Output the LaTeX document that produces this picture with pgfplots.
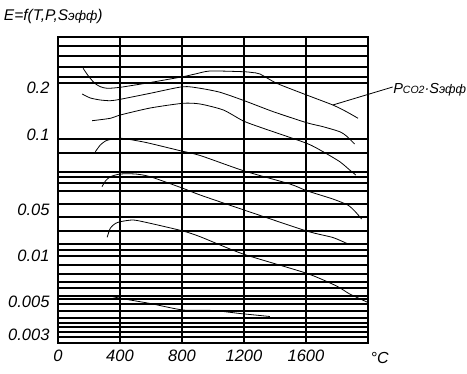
\documentclass[border=0pt]{standalone}
\usepackage{fontspec}
\setmainfont{Liberation Sans}
\usepackage{pgfplots}
\pgfplotsset{compat=1.18}
\begin{document}
\begin{tikzpicture}
\begin{axis}[
  scale only axis, width=310pt, height=306pt,
  xmin=0, xmax=2000, ymin=37, ymax=343, y dir=reverse,
  axis line style={line width=1.6pt},
  xtick={0,400,800,1200,1600,2000}, xticklabels={0,400,800,1200,1600,},
  xmajorgrids,
  ytick={88,135,210,256,302,335},
  yticklabels={0.2,0.1,0.05,0.01,0.005,0.003},
  extra y ticks={46,56,67,77,83,139,153,172,177,183,191,204,217,231,244,250,256,265,274,282,288,296,299,304,311,318,323,327,332,337},
  extra y tick labels={},
  extra y tick style={grid=major},
  major tick length=0pt,
  grid style={black, line width=1.6pt},
  tick label style={font=\fontsize{16.5}{16.5}\selectfont\itshape},
  xticklabel style={yshift=-3pt},
  yticklabel style={xshift=-5pt},
  clip=false,
]
% curve 1
\addplot[black, line width=0.8pt, smooth, tension=0.4] coordinates {
(162,68.3) (196,76) (235,83) (273,86.7) (317,88.3) (402,87.3) (595,82.5) (806,76.7) (885,74) (981,71) (1194,71.7) (1252,72.5) (1303,74) (1411,83.3) (1604,95) (1773,105) (1861,111.7) (1936,118.3)};
% curve 2
\addplot[black, line width=0.8pt, smooth, tension=0.4] coordinates {
(156,94) (209,98) (273,100) (338,100.7) (402,99.3) (595,93.3) (806,86.7) (917,88.3) (1046,92.3) (1202,100.7) (1389,111.7) (1604,122.7) (1710,126.7) (1818,131.7) (1861,136) (1914,144)};
% curve 3
\addplot[black, line width=0.8pt, smooth, tension=0.4] coordinates {
(220,120.7) (338,118.3) (402,115) (595,108) (806,103.3) (917,104) (1067,110) (1196,121) (1324,128.3) (1604,143.3) (1710,151.7) (1818,161.7) (1882,170) (1921,175)};
% curve 4
\addplot[black, line width=0.8pt, smooth, tension=0.4] coordinates {
(241,151.7) (273,145) (306,141) (338,139.5) (402,138.3) (445,139) (574,142.7) (788,150.7) (917,155.5) (1202,171) (1496,184) (1604,190.7) (1773,199) (1869,205) (1914,211) (1959,219)};
% curve 5
\addplot[black, line width=0.8pt, smooth, tension=0.4] coordinates {
(284,186.7) (306,181) (338,176.7) (402,174) (499,174) (595,176.7) (806,188.3) (917,195) (1200,210) (1604,231) (1773,237.5) (1871,244)};
% curve 6
\addplot[black, line width=0.8pt, smooth, tension=0.4] coordinates {
(317,237.3) (338,228) (370,223.5) (402,221.7) (486,220) (595,223.3) (806,231) (917,236.7) (1194,254) (1604,273.3) (1797,286) (1882,294) (2000,302.5)};
% curve 7
\addplot[black, line width=0.8pt, smooth, tension=0.4] coordinates {
(338,296) (402,298.3) (595,303.5) (806,310) (1001,310.5) (1174,313.5) (1367,316.5)};

\draw[line width=0.8pt] (axis cs:1773,105) -- (axis cs:2159,87);
\node[anchor=west, inner sep=0pt, font=\fontsize{14.5}{14.5}\selectfont\itshape] at (axis cs:2162,90) {P{\fontsize{10.5}{10.5}\selectfont CO2}·S{\fontsize{12.5}{12.5}\selectfont эфф}};
\node[anchor=west, inner sep=0pt, font=\fontsize{15.5}{15.5}\selectfont\itshape] at (axis cs:-350,16) {E=f(T,P,S{\fontsize{13.5}{13.5}\selectfont эфф})};
\node[inner sep=0pt, font=\fontsize{16}{16}\selectfont\itshape] at (axis cs:2075,358) {°C};
\coordinate (A) at (axis cs:0,343);
\end{axis}
\pgfresetboundingbox
\path[use as bounding box] (A) ++(-58pt,-31pt) rectangle ++(467pt,374pt);
\end{tikzpicture}
\end{document}
